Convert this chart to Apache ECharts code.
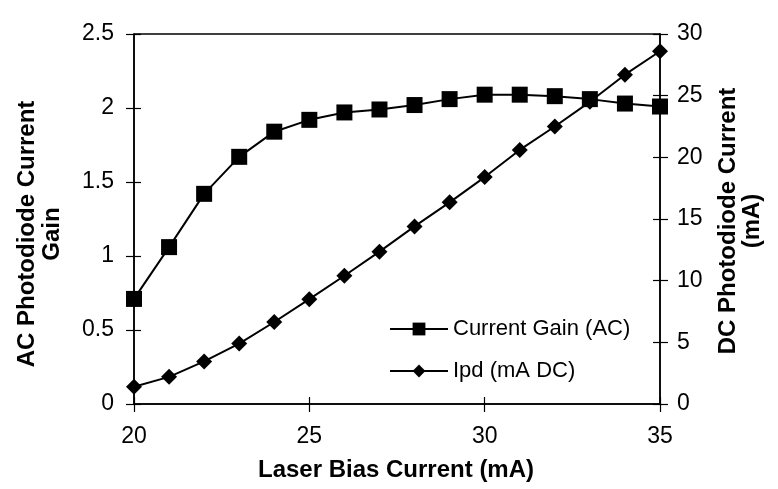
<!DOCTYPE html>
<html>
<head>
<meta charset="utf-8">
<script src="https://cdn.jsdelivr.net/npm/echarts@6/dist/echarts.min.js"></script>
<style>
html, body { margin: 0; padding: 0; background: #fff; }
#chart { width: 778px; height: 489px; }
</style>
</head>
<body>
<div id="chart"></div>
<script>
// laser bias current (mA)
var biasCurrent = [20, 21, 22, 23, 24, 25, 26, 27, 28, 29, 30, 31, 32, 33, 34, 35];
// AC photodiode current gain
var currentGain = [0.71, 1.06, 1.42, 1.67, 1.84, 1.92, 1.97, 1.99, 2.02, 2.06, 2.09, 2.09, 2.08, 2.06, 2.03, 2.01];
// DC photodiode current (mA)
var ipd = [1.4, 2.2, 3.45, 4.9, 6.65, 8.5, 10.4, 12.35, 14.4, 16.35, 18.4, 20.6, 22.5, 24.5, 26.7, 28.6];

var seriesNames = ['Current Gain (AC)', 'Ipd (mA DC)'];
var xTitle = 'Laser Bias Current (mA)';
var leftTitle = 'AC Photodiode Current\nGain';
var rightTitle = 'DC Photodiode Current\n(mA)';

var FONT = '"Liberation Sans", Arial, sans-serif';

function pairs(ys) {
    var out = [];
    for (var i = 0; i < biasCurrent.length; i++) {
        out.push([biasCurrent[i], ys[i]]);
    }
    return out;
}

// axis with line + outside ticks + labels
function valueAxis(pos, min, max, interval, margin) {
    return {
        type: 'value',
        position: pos,
        min: min, max: max, interval: interval,
        splitLine: {show: false},
        axisLine: {show: true, onZero: false, lineStyle: {color: '#000', width: 1.5}},
        axisTick: {show: true, inside: false, length: 8, lineStyle: {color: '#000', width: 1.2}},
        axisLabel: {show: true, margin: margin, color: '#000', fontSize: 23, fontFamily: FONT}
    };
}
// twin axis only used to get ticks on the inner side too
function tickAxis(pos, min, max, interval) {
    return {
        type: 'value',
        position: pos,
        min: min, max: max, interval: interval,
        splitLine: {show: false},
        axisLine: {show: false},
        axisLabel: {show: false},
        axisTick: {show: true, inside: true, length: 7, lineStyle: {color: '#000', width: 1.2}}
    };
}

var option = {
    backgroundColor: '#fff',
    animation: false,
    grid: {
        left: 134, right: 118, top: 34, bottom: 85,
        show: true, borderColor: '#000', borderWidth: 1.5
    },
    legend: {
        orient: 'vertical',
        left: 384, top: 313,
        itemWidth: 58, itemHeight: 16,
        itemGap: 20,
        textStyle: {color: '#000', fontSize: 22, fontFamily: FONT, lineHeight: 18},
        data: seriesNames
    },
    xAxis: [
        valueAxis('bottom', 20, 35, 5, 21),
        tickAxis('bottom', 20, 35, 5)
    ],
    yAxis: [
        valueAxis('left', 0, 2.5, 0.5, 20),
        valueAxis('right', 0, 30, 5, 17),
        tickAxis('left', 0, 2.5, 0.5),
        tickAxis('right', 0, 30, 5)
    ],
    graphic: [
        {
            type: 'text', x: 396, y: 470,
            style: {text: xTitle, fill: '#000', font: 'bold 24px ' + FONT, align: 'center', verticalAlign: 'middle'}
        },
        {
            type: 'text', x: 40, y: 234, rotation: Math.PI / 2,
            style: {text: leftTitle, fill: '#000', font: 'bold 24px ' + FONT, align: 'center', verticalAlign: 'middle', lineHeight: 25}
        },
        {
            type: 'text', x: 740, y: 221, rotation: Math.PI / 2,
            style: {text: rightTitle, fill: '#000', font: 'bold 24px ' + FONT, align: 'center', verticalAlign: 'middle', lineHeight: 24}
        }
    ],
    series: [
        {
            name: seriesNames[0],
            type: 'line',
            xAxisIndex: 0, yAxisIndex: 0,
            data: pairs(currentGain),
            symbol: 'rect', symbolSize: 16,
            color: '#000',
            lineStyle: {color: '#000', width: 2},
            itemStyle: {color: '#000'}
        },
        {
            name: seriesNames[1],
            type: 'line',
            xAxisIndex: 0, yAxisIndex: 1,
            data: pairs(ipd),
            symbol: 'diamond', symbolSize: [16, 16],
            color: '#000',
            lineStyle: {color: '#000', width: 2},
            itemStyle: {color: '#000'}
        }
    ]
};

var chart = echarts.init(document.getElementById('chart'));
chart.setOption(option);
</script>
</body>
</html>
